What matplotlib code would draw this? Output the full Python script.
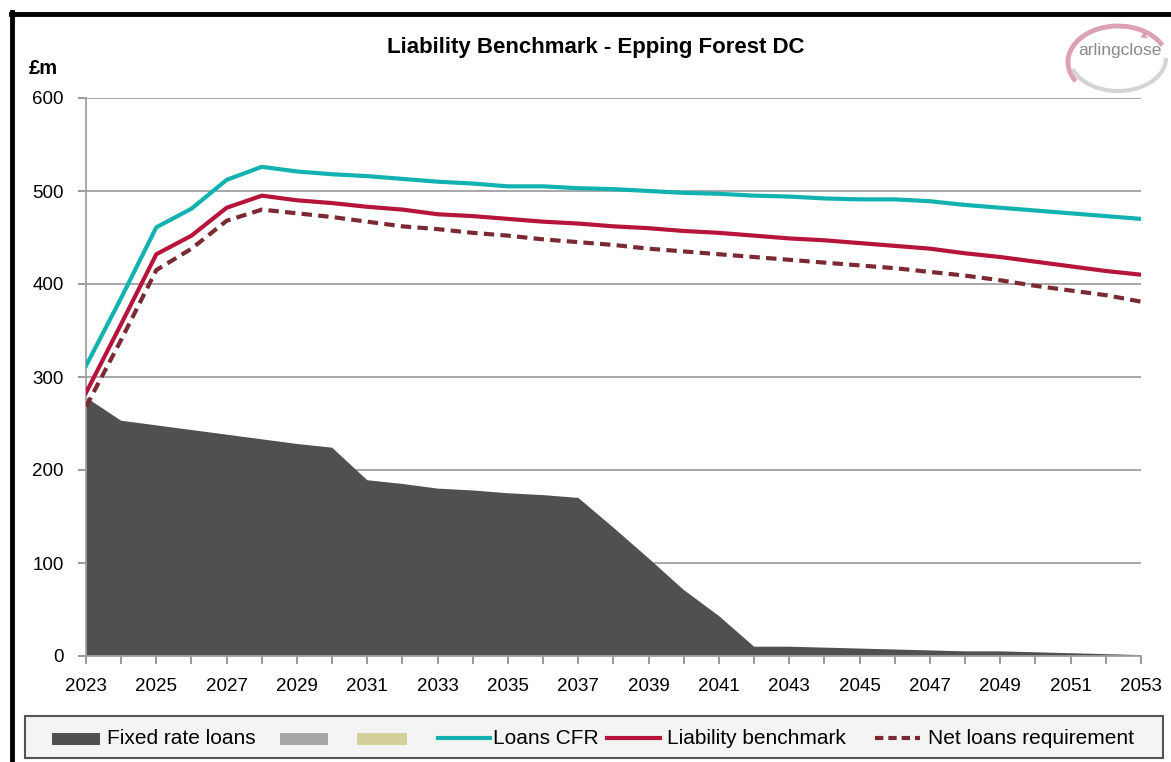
import matplotlib.pyplot as plt
from matplotlib.patches import Arc, Rectangle, FancyArrowPatch
from matplotlib.lines import Line2D

years = list(range(2023, 2054))

fixed_rate = [278, 253, 248, 243, 238, 233, 228, 224, 189, 185, 180, 178, 175, 173, 170,
              138, 105, 71, 43, 10, 10, 9, 8, 7, 6, 5, 5, 4, 3, 2, 1]
other_a = [0] * 31
other_b = [0] * 31
loans_cfr = [312, 385, 461, 481, 512, 526, 521, 518, 516, 513, 510, 508, 505, 505, 503,
             502, 500, 498, 497, 495, 494, 492, 491, 491, 489, 485, 482, 479, 476, 473, 470]
liability = [283, 357, 432, 452, 482, 495, 490, 487, 483, 480, 475, 473, 470, 467, 465,
             462, 460, 457, 455, 452, 449, 447, 444, 441, 438, 433, 429, 424, 419, 414, 410]
net_loans = [268, 340, 415, 438, 468, 480, 476, 472, 467, 462, 459, 455, 452, 448, 445,
             442, 438, 435, 432, 429, 426, 423, 420, 417, 413, 409, 404, 398, 393, 388, 381]

plt.rcParams['font.family'] = ['Liberation Sans', 'DejaVu Sans']

c_fixed = '#505050'
c_a = '#a6a6a6'
c_b = '#d4d09c'
c_cfr = '#12b2b0'
c_lb = '#b7143c'
c_net = '#7b2a33'

W, H = 1171, 762
fig = plt.figure(figsize=(W / 100, H / 100), dpi=100)
ax = fig.add_axes([86 / W, 1 - 656 / H, (1141 - 86) / W, (656 - 98) / H])


def px(x, y):
    # pixel position (from top-left) to figure fraction
    return x / W, 1 - y / H


ax.stackplot(years, fixed_rate, other_a, other_b, colors=[c_fixed, c_a, c_b], zorder=2)
ax.plot(years, loans_cfr, color=c_cfr, lw=3, zorder=3)
ax.plot(years, liability, color=c_lb, lw=3, zorder=3)
ax.plot(years, net_loans, color=c_net, lw=3, ls=(0, (2.5, 1.5)), zorder=3)

ax.set_xlim(2023, 2053)
ax.set_ylim(0, 600)
ax.set_yticks(range(0, 601, 100))
ax.set_xticks(years, minor=True)
ax.set_xticks(range(2023, 2054, 2))
ax.tick_params(axis='both', colors='#909090', labelcolor='black', labelsize=13.5, length=6, width=1.3)
ax.tick_params(axis='x', which='minor', length=6, width=1.3, colors='#909090')
ax.tick_params(axis='x', pad=10)
ax.tick_params(axis='y', pad=10)
ax.grid(axis='y', color='#a0a0a0', lw=1.3, zorder=1)
ax.set_axisbelow(True)
for s in ['top', 'right']:
    ax.spines[s].set_visible(False)
for s in ['left', 'bottom']:
    ax.spines[s].set_color('#a0a0a0')
    ax.spines[s].set_linewidth(1.3)

fig.text(*px(596, 48), 'Liability Benchmark - Epping Forest DC', ha='center', va='center',
         fontsize=16, fontweight='bold')
fig.text(*px(29, 68), '£m', ha='left', va='center', fontsize=14.5, fontweight='bold')

# frame lines top and left
fig.add_artist(Line2D([11 / W, 1], [1 - 13.5 / H] * 2, color='black', lw=3.5))
fig.add_artist(Line2D([11.5 / W] * 2, [0, 1 - 12 / H], color='black', lw=3.5))

# logo
fig.add_artist(Arc(px(1118, 62), 100 / W, 72 / H, theta1=30, theta2=215, color='#d48aa0', lw=3.5,
                   alpha=0.8))
fig.add_artist(FancyArrowPatch(px(1140, 33), px(1150, 40), arrowstyle='-|>', mutation_scale=12,
                               color='#d48aa0', alpha=0.8, lw=0))
fig.add_artist(Arc(px(1118, 58), 96 / W, 66 / H, theta1=200, theta2=360, color='#d0d0d0', lw=3,
                   alpha=0.9))
fig.text(*px(1120, 51), 'arlingclose', ha='center', va='center', fontsize=12.5, color='#8a8a8a')

# legend
fig.add_artist(Rectangle(px(25, 758), (1163 - 25) / W, 42 / H, facecolor='#f4f4f4',
                         edgecolor='#555555', lw=1.5))
items = [
    ('patch', c_fixed, 52, 100, 'Fixed rate loans', 107),
    ('patch', c_a, 280, 328, '', 0),
    ('patch', c_b, 357, 407, '', 0),
    ('line', c_cfr, 438, 490, 'Loans CFR', 493),
    ('line', c_lb, 607, 660, 'Liability benchmark', 667),
    ('dash', c_net, 875, 920, 'Net loans requirement', 928),
]
for kind, col, x0, x1, lab, tx in items:
    if kind == 'patch':
        fig.add_artist(Rectangle(px(x0, 745), (x1 - x0) / W, 12 / H, facecolor=col, lw=0))
    else:
        ls = (0, (2, 1.2)) if kind == 'dash' else '-'
        fig.add_artist(Line2D([x0 / W, x1 / W], [1 - 738 / H] * 2, color=col, lw=3, ls=ls))
    if lab:
        fig.text(*px(tx, 738), lab, ha='left', va='center', fontsize=15)

fig.savefig('out.png', dpi=100)
